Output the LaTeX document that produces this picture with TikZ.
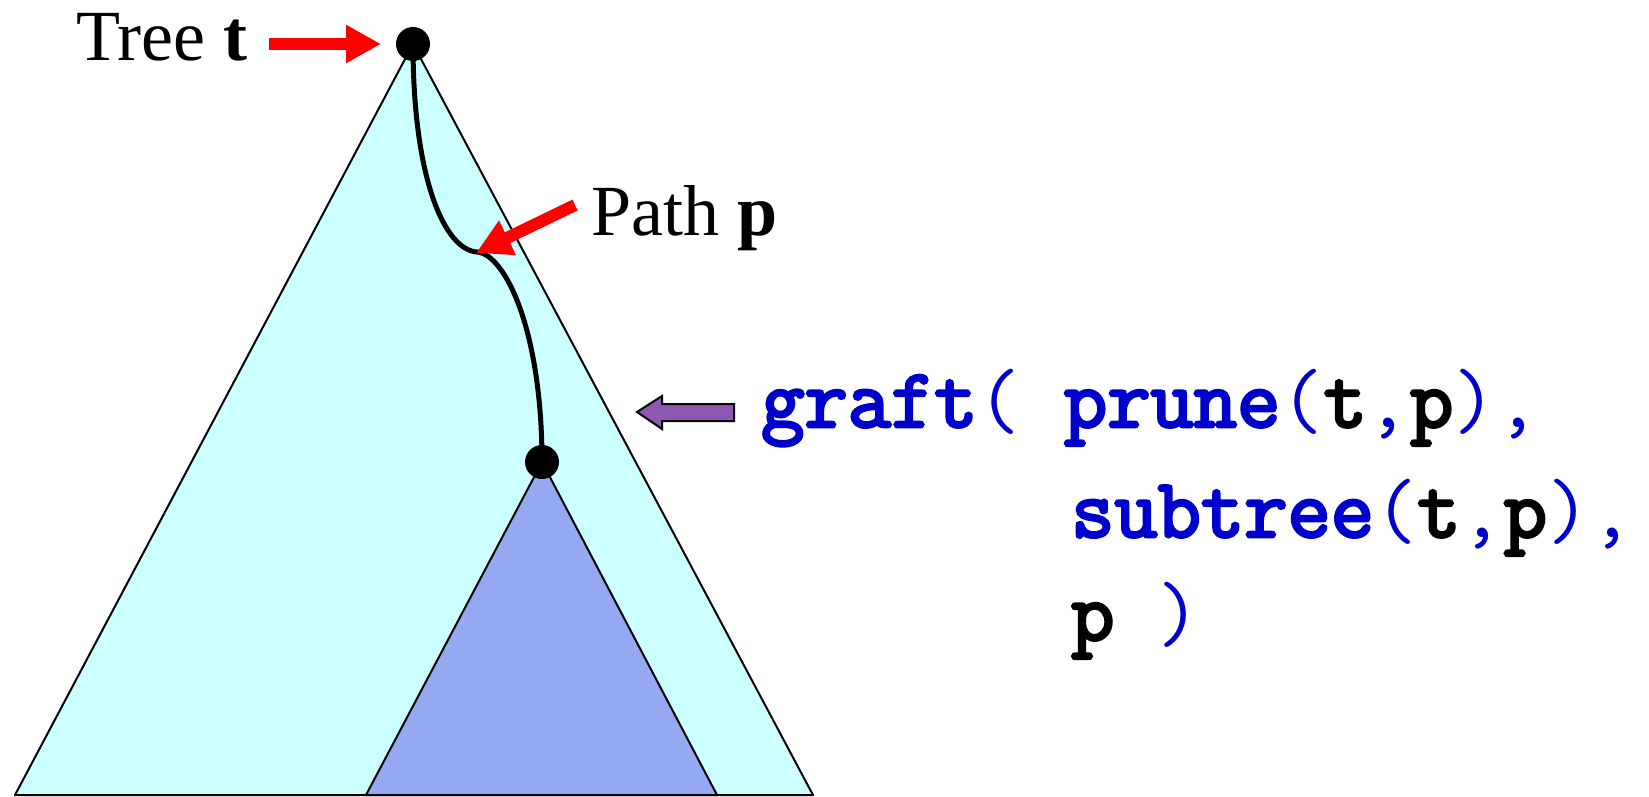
\documentclass[tikz,border=0pt]{standalone}
\usepackage{fontspec}
\setmainfont{Liberation Serif}
\newfontfamily\codefont{Latin Modern Mono}
\newfontfamily\codeboldfont{Latin Modern Mono}[FakeBold=3.5]
\usetikzlibrary{arrows.meta}
\definecolor{treefill}{RGB}{204,255,255}
\definecolor{subfill}{RGB}{148,169,242}
\definecolor{codeblue}{RGB}{0,0,204}
\definecolor{arrowpurple}{RGB}{142,88,178}
\tikzset{
  lbl/.style={inner sep=0pt, anchor=base west, font=\fontsize{72}{86}\selectfont},
  code/.style={inner sep=0pt, anchor=base west, font=\codefont\fontsize{84}{100}\selectfont},
  redarrow/.style={draw=red, line width=12pt, -{Triangle[length=35pt,width=36pt]}},
  dotnode/.style={circle, fill=black, inner sep=0pt, minimum size=34pt},
  tri/.style={draw=black, line width=2pt, line join=round},
  pathline/.style={draw=black, line width=5pt},
}
\newcommand{\kw}[1]{\textcolor{codeblue}{\codeboldfont #1}}
\newcommand{\pn}[1]{\textcolor{codeblue}{\codefont #1}}
\newcommand{\vr}[1]{\textcolor{black}{\codeboldfont #1}}
\begin{document}
\begin{tikzpicture}[x=1pt,y=-1pt]
\useasboundingbox (0,0) rectangle (1649,797);
% coordinates
\coordinate (root) at (413,44);
\coordinate (sub) at (542,462);
\coordinate (bl) at (15,795);
\coordinate (br) at (813,795);
\coordinate (sbl) at (366,795);
\coordinate (sbr) at (717,795);
\coordinate (knee) at (477,252);
% big tree
\filldraw[tri, fill=treefill] (root) -- (bl) -- (br) -- cycle;
% subtree
\filldraw[tri, fill=subfill] (sub) -- (sbl) -- (sbr) -- cycle;
% path
\draw[pathline] (root) .. controls (413,180) and (445,250) .. (knee)
  .. controls (505,254) and (542,330) .. (sub);
% dots
\node[dotnode] (rootdot) at (root) {};
\node[dotnode] (subdot) at (sub) {};
% labels
\node[lbl] (treelbl) at (76,61) {Tree \textbf{t}};
\node[lbl] (pathlbl) at (591,235) {Path \textbf{p}};
% red arrows
\coordinate (ta) at (269,44);
\coordinate (tb) at (381,44);
\draw[redarrow] (ta) -- (tb);
\coordinate (pa) at (575,205);
\coordinate (pb) at (476,253);
\draw[redarrow] (pa) -- (pb);
% purple arrow
\coordinate (ptip) at (637,412);
\filldraw[draw=black, line width=2pt, fill=arrowpurple, line join=miter]
  (ptip) -- ++(25,-16) -- ++(0,8) -- ++(72,0) -- ++(0,17) -- ++(-72,0) -- ++(0,8) -- cycle;
% code
\node[code] (l1) at (761,427) {\kw{graft}\pn{(} \kw{prune}\pn{(}\vr{t}\pn{,}\vr{p}\pn{)}\pn{,}};
\node[code] (l2) at (1071,537) {\kw{subtree}\pn{(}\vr{t}\pn{,}\vr{p}\pn{)}\pn{,}};
\node[code] (l3) at (1071,640) {\vr{p} \pn{)}};
\end{tikzpicture}
\end{document}
